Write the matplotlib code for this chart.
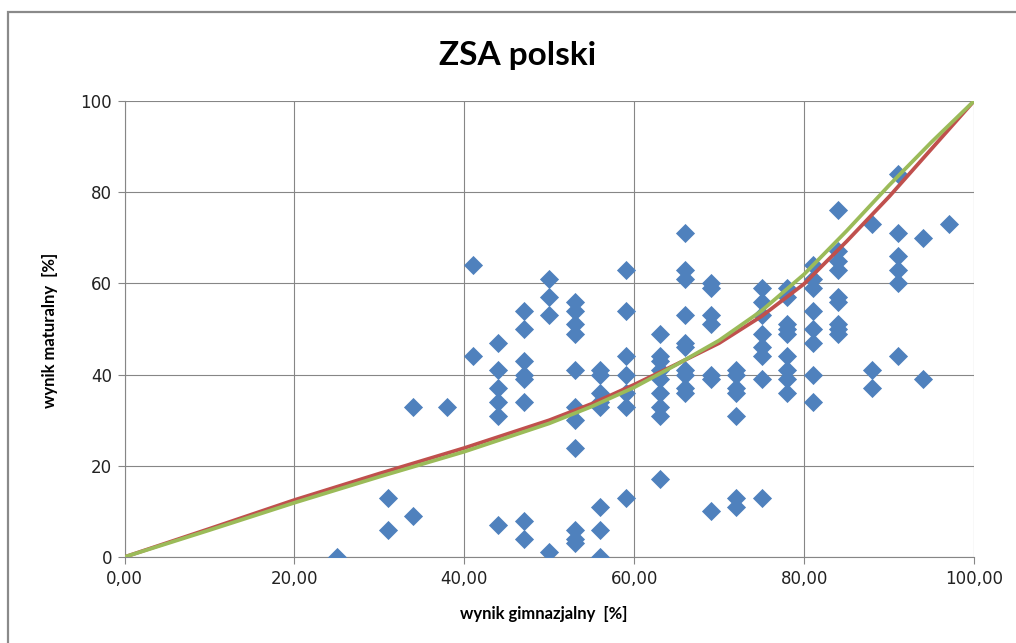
#!/usr/bin/env python3
"""ZSA polski - wynik gimnazjalny vs maturalny, scatter with two trend curves."""
import matplotlib
matplotlib.use('Agg')
import matplotlib.pyplot as plt
from matplotlib.patches import Rectangle

# scatter data, grouped by x column (wynik gimnazjalny)
gim_cols = [25, 31, 34, 38, 41, 44, 47, 50, 53, 56, 59, 63, 66, 69, 72, 75, 78, 81, 84, 88, 91, 94, 97]
mat_cols = [
    [0],
    [13, 6],
    [33, 9],
    [33],
    [64, 44],
    [47, 41, 37, 34, 31, 7],
    [54, 50, 43, 40, 39, 34, 8, 4],
    [61, 57, 53, 1],
    [56, 54, 51, 49, 41, 33, 30, 24, 6, 4, 3],
    [41, 40, 36, 34, 33, 11, 6, 0],
    [63, 54, 44, 40, 36, 33, 13],
    [49, 44, 43, 41, 39, 36, 33, 31, 17],
    [71, 63, 61, 53, 47, 46, 41, 40, 37, 36],
    [60, 59, 53, 51, 40, 39, 10],
    [41, 40, 37, 36, 31, 13, 11],
    [59, 56, 53, 49, 46, 44, 39, 13],
    [59, 57, 51, 50, 49, 44, 41, 39, 36],
    [64, 61, 59, 54, 50, 47, 40, 34],
    [76, 67, 65, 63, 57, 56, 51, 50, 49],
    [73, 41, 37],
    [84, 71, 66, 63, 60, 44],
    [70, 39],
    [73],
]

# trend curves
curve_x = [0, 10, 20, 30, 40, 50, 55, 60, 65, 70, 75, 80, 85, 90, 95, 100]
red_y = [0, 6.2, 12.5, 18.3, 23.9, 30.0, 33.6, 37.8, 42.3, 46.9, 52.8, 59.9, 69.2, 79.0, 89.5, 100]
green_y = [0, 5.9, 11.9, 17.6, 23.1, 29.3, 33.0, 37.2, 42.2, 47.5, 54.0, 62.0, 71.5, 81.5, 91.0, 100]

x_ticks = [0, 20, 40, 60, 80, 100]
x_tick_labels = ['0,00', '20,00', '40,00', '60,00', '80,00', '100,00']
y_ticks = [0, 20, 40, 60, 80, 100]
y_tick_labels = ['0', '20', '40', '60', '80', '100']

xs, ys = [], []
for gx, col in zip(gim_cols, mat_cols):
    for v in col:
        xs.append(gx)
        ys.append(v)

grid_c = '#868686'

fig = plt.figure(figsize=(10.16, 6.43), dpi=100)
fig.patches.append(Rectangle((8 / 1016, -0.1), 1.2, 1 - 12 / 643 + 0.1,
                             transform=fig.transFigure, fill=False,
                             edgecolor='#8a8a8a', linewidth=1.6))

ax = fig.add_axes([124.5 / 1016, 1 - 557 / 643, (974 - 124.5) / 1016, (557 - 101) / 643])

ax.scatter(xs, ys, marker='D', s=95, color='#4F81BD', linewidths=0, zorder=3)
ax.plot(curve_x, red_y, color='#C0504D', linewidth=2.7, zorder=4, solid_joinstyle='round')
ax.plot(curve_x, green_y, color='#9BBB59', linewidth=2.7, zorder=5, solid_joinstyle='round')

ax.set_xlim(0, 100)
ax.set_ylim(0, 100)
ax.set_xticks(x_ticks)
ax.set_xticklabels(x_tick_labels)
ax.set_yticks(y_ticks)
ax.set_yticklabels(y_tick_labels)
ax.tick_params(direction='out', length=5, width=0.8, color=grid_c, labelsize=12,
               labelcolor='#222222', pad=4)
ax.grid(True, color=grid_c, linewidth=0.8)
ax.set_axisbelow(True)
for side in ['top', 'right']:
    ax.spines[side].set_visible(False)
for side in ['left', 'bottom']:
    ax.spines[side].set_color(grid_c)
    ax.spines[side].set_linewidth(0.8)

fig.text(518 / 1016, 1 - 55 / 643, 'ZSA polski', ha='center', va='center',
         fontsize=24, fontweight='bold', family=['Lato', 'DejaVu Sans'])
fig.text(544 / 1016, 1 - 614 / 643, 'wynik gimnazjalny  [%]', ha='center', va='center',
         fontsize=12, fontweight='bold', family=['Lato', 'DejaVu Sans'])
fig.text(50 / 1016, 1 - 330 / 643, 'wynik maturalny  [%]', ha='center', va='center',
         rotation=90, fontsize=12, fontweight='bold', family=['Lato', 'DejaVu Sans'])

fig.savefig('out.png', dpi=100)
plt.close(fig)
